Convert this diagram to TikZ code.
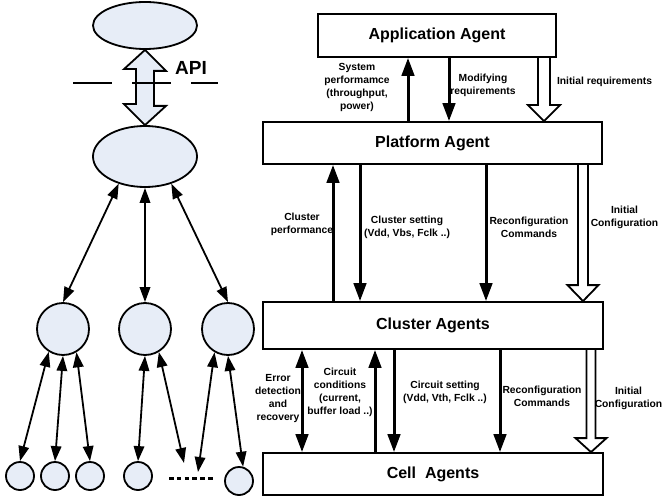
\documentclass[tikz,border=0pt]{standalone}
\usepackage{fontspec}
\setmainfont{Liberation Sans}
\usetikzlibrary{arrows.meta,shapes.geometric,calc,backgrounds}
\definecolor{lb}{RGB}{231,237,247}
\newcommand{\hollowarr}[6]{%
 \draw[hollow] (#1-#4,0 |- #2.south) -- ($(#1-#4,0 |- #3.north)+(0,-#6)$) -- ($(#1-#5,0 |- #3.north)+(0,-#6)$) -- (#1,0 |- #3.north) -- ($(#1+#5,0 |- #3.north)+(0,-#6)$) -- ($(#1+#4,0 |- #3.north)+(0,-#6)$) -- (#1+#4,0 |- #2.south);
}
\begin{document}
\begin{tikzpicture}[x=1pt,y=-1pt,
 treefill/.style={draw, line width=1.8pt, fill=lb, inner sep=0pt},
 agentbox/.style={draw, line width=1.8pt, fill=white, font=\fontsize{16}{19}\selectfont\bfseries, inner sep=0pt},
 lbl/.style={font=\fontsize{10.3}{13}\selectfont\bfseries, align=center, inner sep=0pt},
 tarrow/.style={line width=1.8pt, {Triangle[length=15pt,width=10.5pt]}-{Triangle[length=15pt,width=10.5pt]}},
 flow/.style={line width=3pt, -{Triangle[length=18pt,width=12.5pt]}},
 bflow/.style={line width=3pt, {Triangle[length=18pt,width=12.5pt]}-{Triangle[length=18pt,width=12.5pt]}},
 hollow/.style={line width=1.8pt, fill=white, line join=miter},
]
\useasboundingbox (0,0) rectangle (663,497);

% ---------- left tree ----------
\node[ellipse, treefill, minimum width=104pt, minimum height=47pt] (e1) at (145,25.5) {};
\node[ellipse, treefill, minimum width=104pt, minimum height=61pt] (e2) at (145,156.5) {};
\node[circle, treefill, minimum size=52pt] (c1) at (63,329) {};
\node[circle, treefill, minimum size=52pt] (c2) at (145,329) {};
\node[circle, treefill, minimum size=52pt] (c3) at (228,329) {};
\node[circle, treefill, minimum size=28pt] (s1) at (20,476) {};
\node[circle, treefill, minimum size=28pt] (s2) at (55,476) {};
\node[circle, treefill, minimum size=28pt] (s3) at (90,476) {};
\node[circle, treefill, minimum size=28pt] (s4) at (138,476) {};
\node[circle, treefill, minimum size=28pt] (s5) at (239,481) {};
\coordinate (dl) at (169,478);
\coordinate (dr) at (215,478);
\coordinate (d1) at (184,463);
\coordinate (d2) at (198,472);
\draw[line width=3pt, dash pattern=on 4.5pt off 3.3pt] (dl) -- (dr);

% API double arrow
\draw[line width=1.8pt, fill=lb, line join=miter] (e1.south) -- ++(21,21) -- ++(-12,0) -- ++(0,35) -- ++(12,0) -- (e2.north) -- ++(-21,-21) -- ++(12,0) -- ++(0,-35) -- ++(-12,0) -- cycle;
\coordinate (hl) at (73,83);
\coordinate (hr) at (218,83);
\draw[line width=1.8pt, dash pattern=on 39pt off 20pt] (hl) -- (hr);
\node[font=\fontsize{19}{22}\selectfont\bfseries, inner sep=0pt] (api) at (191,68) {API};

\draw[tarrow] (e2.226) -- (c1.north);
\draw[tarrow] (e2.south) -- (c2.north);
\draw[tarrow] (e2.314) -- (c3.north);
\draw[tarrow] (c1.238) -- (s1.north);
\draw[tarrow] (c1.south) -- (s2.north);
\draw[tarrow] (c1.300) -- (s3.north);
\draw[tarrow] (c2.south) -- (s4.north);
\draw[tarrow] (c2.301) -- (d1);
\draw[tarrow] (c3.240) -- (d2);
\draw[tarrow] (c3.south) -- (s5.74);

% ---------- right side ----------
\node[agentbox, minimum width=238pt, minimum height=43pt] (app) at (437,35.5) {Application Agent};
\node[agentbox, minimum width=339pt, minimum height=42pt] (plat) at (432.5,143) {Platform Agent};
\node[agentbox, minimum width=340pt, minimum height=47pt] (clus) at (433,325.5) {Cluster Agents};
\node[agentbox, minimum width=340pt, minimum height=42pt] (cell) at (433,474) {Cell\ \ Agents};

\begin{scope}[on background layer]
\hollowarr{544}{app}{plat}{6}{16}{16}
\hollowarr{583}{plat}{clus}{5}{15.5}{16}
\hollowarr{591}{clus}{cell}{4.5}{15.5}{14}
\end{scope}

% application <-> platform
\draw[flow] (408,0 |- plat.north) -- (408,0 |- app.south);
\draw[flow] (449,0 |- app.south) -- (449,0 |- plat.north);
\node[lbl] (l1) at (357,87) {System\\performamce\\(throughput,\\power)};
\node[lbl] (l2) at (483,85) {Modifying\\requirements};
\node[lbl] (l3) at (604.5,82) {Initial requirements};

% platform <-> cluster
\draw[flow] (333,0 |- clus.north) -- (333,0 |- plat.south);
\draw[flow] (360,0 |- plat.south) -- (360,0 |- clus.north);
\draw[flow] (486,0 |- plat.south) -- (486,0 |- clus.north);
\node[lbl] (l4) at (302,224) {Cluster\\performance};
\node[lbl] (l5) at (407,227) {Cluster setting\\(Vdd, Vbs, Fclk ..)};
\node[lbl] (l6) at (529,227) {Reconfiguration\\Commands};
\node[lbl] (l7) at (624.5,217) {Initial\\Configuration};

% cluster <-> cell
\draw[bflow] (302,0 |- clus.south) -- (302,0 |- cell.north);
\draw[flow] (375,0 |- cell.north) -- (375,0 |- clus.south);
\draw[flow] (394,0 |- clus.south) -- (394,0 |- cell.north);
\draw[flow] (500,0 |- clus.south) -- (500,0 |- cell.north);
\node[lbl] (l8) at (278,398.5) {Error\\detection\\and\\recovery};
\node[lbl] (l9) at (340,392) {Circuit\\conditions\\(current,\\buffer load ..)};
\node[lbl] (l10) at (445,392) {Circuit setting\\(Vdd, Vth, Fclk ..)};
\node[lbl] (l11) at (542,396) {Reconfiguration\\Commands};
\node[lbl] (l12) at (628.5,398) {Initial\\Configuration};
\end{tikzpicture}
\end{document}
